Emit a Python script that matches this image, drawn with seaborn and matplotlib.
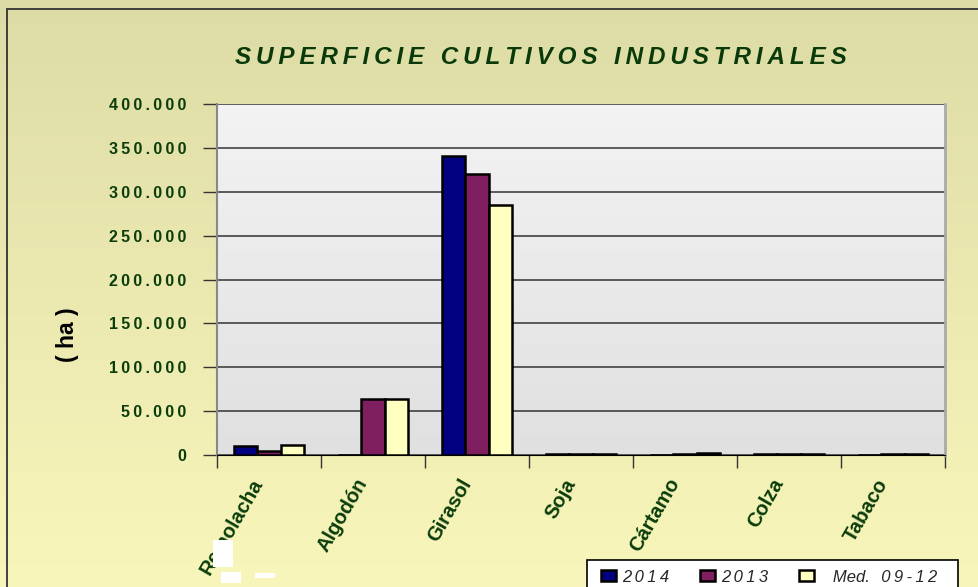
import numpy as np
import pandas as pd
import matplotlib
matplotlib.use("Agg")
import matplotlib.pyplot as plt
import matplotlib.transforms as mtrans
import seaborn as sns
from matplotlib.patches import Patch, Rectangle
from matplotlib.ticker import FixedLocator, FuncFormatter

# ── data (ha) ───────────────────────────────
CULTIVOS = ["Remolacha", "Algodón", "Girasol", "Soja", "Cártamo", "Colza", "Tabaco"]
SERIES = ["2014", "2013", "Med. 09-12"]
SUP_2014 = [10000, 0, 341000, 600, 0, 900, 0]
SUP_2013 = [4500, 64000, 320500, 700, 600, 900, 600]
SUP_MED = [11000, 64000, 285000, 600, 2200, 900, 600]

COLORS = ["#000080", "#7F1F5F", "#FFFFC0"]
GREEN = "#0B3D0B"
THIN = "\u2009"

W, H = 979, 587


def spaced(txt):
    # mimic the wide character spacing of the original chart
    return THIN.join(txt)


df = pd.DataFrame({
    "cultivo": CULTIVOS * 3,
    "serie": sum([[s] * len(CULTIVOS) for s in SERIES], []),
    "ha": SUP_2014 + SUP_2013 + SUP_MED,
})

sns.set_style("white")
plt.rcParams["font.family"] = ["Liberation Sans", "DejaVu Sans"]

fig = plt.figure(figsize=(W / 100, H / 100), dpi=100)

# figure background gradient
bg = fig.add_axes([0, 0, 1, 1], zorder=-10)
grad = np.linspace(0, 1, 256).reshape(-1, 1)
top_c = np.array([222, 220, 166]) / 255
bot_c = np.array([248, 246, 186]) / 255
img = top_c + (bot_c - top_c) * grad[..., None]
bg.imshow(img, aspect="auto", extent=[0, 1, 0, 1])
bg.set_xlim(0, 1)
bg.set_ylim(0, 1)
bg.axis("off")
bg.add_patch(Rectangle((7 / W, -0.1), 1.2, 1 - 9 / H + 0.1,
                       fill=False, edgecolor="#333333", lw=1.3))

ax = fig.add_axes([217 / W, 1 - 455 / H, 728 / W, 351 / H])
sns.barplot(data=df, x="cultivo", y="ha", hue="serie", hue_order=SERIES,
            order=CULTIVOS, palette=COLORS, width=0.67, edgecolor="black",
            linewidth=1.8, saturation=1, ax=ax, zorder=3, legend=False)

ax.set_xlim(-0.5, len(CULTIVOS) - 0.5)
ax.set_ylim(0, 400000)

# plot area gradient
pgrad = np.linspace(0, 1, 256).reshape(-1, 1)
p_top = np.array([243, 243, 243]) / 255
p_bot = np.array([224, 224, 224]) / 255
pimg = p_top + (p_bot - p_top) * pgrad[..., None]
ax.imshow(pimg, aspect="auto", extent=[-0.5, len(CULTIVOS) - 0.5, 0, 400000],
          zorder=0)

ax.yaxis.set_major_locator(FixedLocator(np.arange(0, 400001, 50000)))
ax.yaxis.set_major_formatter(FuncFormatter(
    lambda v, p: spaced(f"{v:,.0f}".replace(",", "."))))
ax.grid(axis="y", color="#333333", lw=1.1, zorder=1)
ax.set_axisbelow(True)

ax.spines["top"].set_visible(False)
ax.spines["left"].set_color("#888888")
ax.spines["left"].set_linewidth(1.5)
ax.spines["right"].set_color("#aaaaaa")
ax.spines["right"].set_linewidth(2)
ax.spines["bottom"].set_color("black")

ax.tick_params(axis="y", length=10, width=1, color="#333333", left=True,
               labelsize=11.5, labelcolor=GREEN, pad=12)
for t in ax.get_yticklabels():
    t.set_fontweight("bold")

ax.set_xticks(range(len(CULTIVOS)))
ax.tick_params(axis="x", which="major", length=0, pad=18)
ax.set_xticks(np.arange(-0.5, len(CULTIVOS)), minor=True)
ax.tick_params(axis="x", which="minor", length=9, width=1, color="#333333",
               bottom=True)
ax.set_xticklabels(CULTIVOS, rotation=60, ha="right", va="center",
                   rotation_mode="anchor", fontsize=14.5,
                   fontweight="bold", color=GREEN)
# nudge the rotated labels a little to the left (after tick_params!)
shift = mtrans.ScaledTranslation(-10 / 100, 0, fig.dpi_scale_trans)
for t in ax.get_xticklabels():
    t.set_transform(t.get_transform() + shift)

ax.set_xlabel("")
ax.set_ylabel("")
fig.text(68 / W, 1 - 335 / H, "( ha )", rotation=90, ha="center",
         va="center", fontsize=16.5, fontweight="bold", color="black")

fig.text(541 / W, 1 - 57 / H, spaced("SUPERFICIE CULTIVOS INDUSTRIALES"),
         ha="center", va="center", fontsize=17.5, fontweight="bold",
         fontstyle="italic", color="#0A3A0A")

# legend box (runs off the bottom edge like the source) + legend entries
fig.patches.append(Rectangle((587 / W, -0.05), (958 - 587) / W,
                             1 - 560 / H + 0.05, transform=fig.transFigure,
                             facecolor="white", edgecolor="black", lw=1.2,
                             zorder=5))
handles = [Patch(facecolor=c, edgecolor="black", lw=1.8) for c in COLORS]
labels = [spaced(SERIES[0]), spaced(SERIES[1]),
          "   Med." + THIN + spaced(" 09-12")]
leg = fig.legend(handles, labels, ncol=3,
                 loc="center left", bbox_to_anchor=(601 / W, 1 - 577 / H),
                 borderaxespad=0, borderpad=0, frameon=False,
                 handlelength=0.9, handleheight=0.63, handletextpad=0.35,
                 columnspacing=1.85,
                 prop={"size": 12, "style": "italic"})
leg.set_zorder(6)

# white blotches over the first category label, as in the source image
for (x0, y0, x1, y1) in [(213, 540, 233, 567), (221, 572, 241, 583),
                         (255, 573, 275, 578)]:
    fig.patches.append(Rectangle((x0 / W, 1 - y1 / H), (x1 - x0) / W,
                                 (y1 - y0) / H, transform=fig.transFigure,
                                 facecolor="white", edgecolor="none",
                                 zorder=20))

fig.savefig("out.png", dpi=100)
